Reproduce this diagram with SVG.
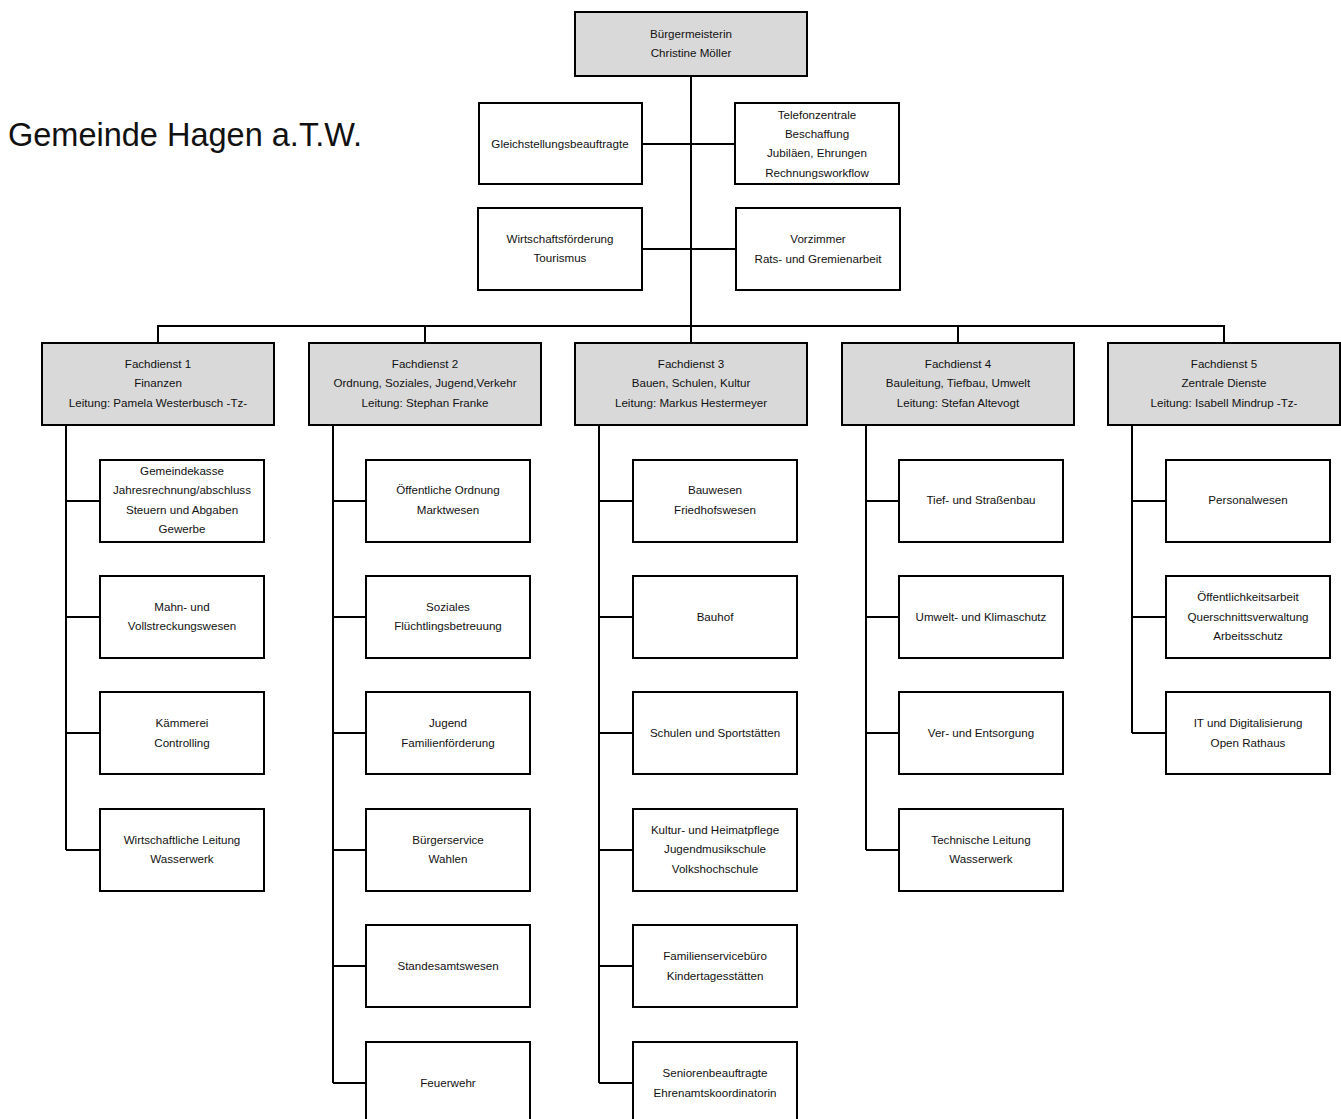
<svg xmlns="http://www.w3.org/2000/svg" width="1341" height="1119" viewBox="0 0 1341 1119">
<style>
.b{fill:#fff;stroke:#000;stroke-width:2}
.g{fill:#d9d9d9;stroke:#000;stroke-width:2}
.t{font-family:"Liberation Sans",Arial,sans-serif;font-size:11.6px;fill:#111;text-anchor:middle}
.c{stroke:#000;stroke-width:2;fill:none}
</style>
<rect width="1341" height="1119" fill="#fff"/>
<text x="8" y="146" style="font-family:'Liberation Sans',Arial,sans-serif;font-size:32.5px;fill:#111">Gemeinde Hagen a.T.W.</text>
<g id="connectors">
<path class="c" d="M691 76V326M642 144H735M642 249H736M158 343V326H1224V343M425 326V343M691 326V343M958 326V343"/>
<path class="c" d="M66 425V850M66 501H100M66 617H100M66 733H100M66 850H100"/>
<path class="c" d="M333 425V1083M333 501H366M333 617H366M333 733H366M333 850H366M333 966H366M333 1083H366"/>
<path class="c" d="M599 425V1083M599 501H633M599 617H633M599 733H633M599 850H633M599 966H633M599 1083H633"/>
<path class="c" d="M866 425V850M866 501H899M866 617H899M866 733H899M866 850H899"/>
<path class="c" d="M1132 425V733M1132 501H1166M1132 617H1166M1132 733H1166"/>
</g>
<g id="bm"><rect class="g" x="575" y="12" width="232" height="64"/><text class="t" x="691" y="38">Bürgermeisterin</text><text class="t" x="691" y="57">Christine Möller</text></g>
<g id="gleich"><rect class="b" x="479" y="103" width="163" height="81"/><text class="t" x="560" y="148">Gleichstellungsbeauftragte</text></g>
<g id="telefon"><rect class="b" x="735" y="103" width="164" height="81"/><text class="t" x="817" y="119">Telefonzentrale</text><text class="t" x="817" y="138">Beschaffung</text><text class="t" x="817" y="157">Jubiläen, Ehrungen</text><text class="t" x="817" y="177">Rechnungsworkflow</text></g>
<g id="wirt"><rect class="b" x="478" y="208" width="164" height="82"/><text class="t" x="560" y="243">Wirtschaftsförderung</text><text class="t" x="560" y="262">Tourismus</text></g>
<g id="vorz"><rect class="b" x="736" y="208" width="164" height="82"/><text class="t" x="818" y="243">Vorzimmer</text><text class="t" x="818" y="263">Rats- und Gremienarbeit</text></g>

<g id="fd1"><rect class="g" x="42" y="343" width="232" height="82"/><text class="t" x="158" y="368">Fachdienst 1</text><text class="t" x="158" y="387">Finanzen</text><text class="t" x="158" y="407">Leitung: Pamela Westerbusch -Tz-</text></g>
<g id="fd2"><rect class="g" x="309" y="343" width="232" height="82"/><text class="t" x="425" y="368">Fachdienst 2</text><text class="t" x="425" y="387">Ordnung, Soziales, Jugend,Verkehr</text><text class="t" x="425" y="407">Leitung: Stephan Franke</text></g>
<g id="fd3"><rect class="g" x="575" y="343" width="232" height="82"/><text class="t" x="691" y="368">Fachdienst 3</text><text class="t" x="691" y="387">Bauen, Schulen, Kultur</text><text class="t" x="691" y="407">Leitung: Markus Hestermeyer</text></g>
<g id="fd4"><rect class="g" x="842" y="343" width="232" height="82"/><text class="t" x="958" y="368">Fachdienst 4</text><text class="t" x="958" y="387">Bauleitung, Tiefbau, Umwelt</text><text class="t" x="958" y="407">Leitung: Stefan Altevogt</text></g>
<g id="fd5"><rect class="g" x="1108" y="343" width="232" height="82"/><text class="t" x="1224" y="368">Fachdienst 5</text><text class="t" x="1224" y="387">Zentrale Dienste</text><text class="t" x="1224" y="407">Leitung: Isabell Mindrup -Tz-</text></g>

<g id="fd1-1"><rect class="b" x="100" y="460" width="164" height="82"/><text class="t" x="182" y="475">Gemeindekasse</text><text class="t" x="182" y="494">Jahresrechnung/abschluss</text><text class="t" x="182" y="514">Steuern und Abgaben</text><text class="t" x="182" y="533">Gewerbe</text></g>
<g id="fd1-2"><rect class="b" x="100" y="576" width="164" height="82"/><text class="t" x="182" y="611">Mahn- und</text><text class="t" x="182" y="630">Vollstreckungswesen</text></g>
<g id="fd1-3"><rect class="b" x="100" y="692" width="164" height="82"/><text class="t" x="182" y="727">Kämmerei</text><text class="t" x="182" y="747">Controlling</text></g>
<g id="fd1-4"><rect class="b" x="100" y="809" width="164" height="82"/><text class="t" x="182" y="844">Wirtschaftliche Leitung</text><text class="t" x="182" y="863">Wasserwerk</text></g>

<g id="fd2-1"><rect class="b" x="366" y="460" width="164" height="82"/><text class="t" x="448" y="494">Öffentliche Ordnung</text><text class="t" x="448" y="514">Marktwesen</text></g>
<g id="fd2-2"><rect class="b" x="366" y="576" width="164" height="82"/><text class="t" x="448" y="611">Soziales</text><text class="t" x="448" y="630">Flüchtlingsbetreuung</text></g>
<g id="fd2-3"><rect class="b" x="366" y="692" width="164" height="82"/><text class="t" x="448" y="727">Jugend</text><text class="t" x="448" y="747">Familienförderung</text></g>
<g id="fd2-4"><rect class="b" x="366" y="809" width="164" height="82"/><text class="t" x="448" y="844">Bürgerservice</text><text class="t" x="448" y="863">Wahlen</text></g>
<g id="fd2-5"><rect class="b" x="366" y="925" width="164" height="82"/><text class="t" x="448" y="970">Standesamtswesen</text></g>
<g id="fd2-6"><rect class="b" x="366" y="1042" width="164" height="82"/><text class="t" x="448" y="1087">Feuerwehr</text></g>

<g id="fd3-1"><rect class="b" x="633" y="460" width="164" height="82"/><text class="t" x="715" y="494">Bauwesen</text><text class="t" x="715" y="514">Friedhofswesen</text></g>
<g id="fd3-2"><rect class="b" x="633" y="576" width="164" height="82"/><text class="t" x="715" y="621">Bauhof</text></g>
<g id="fd3-3"><rect class="b" x="633" y="692" width="164" height="82"/><text class="t" x="715" y="737">Schulen und Sportstätten</text></g>
<g id="fd3-4"><rect class="b" x="633" y="809" width="164" height="82"/><text class="t" x="715" y="834">Kultur- und Heimatpflege</text><text class="t" x="715" y="853">Jugendmusikschule</text><text class="t" x="715" y="873">Volkshochschule</text></g>
<g id="fd3-5"><rect class="b" x="633" y="925" width="164" height="82"/><text class="t" x="715" y="960">Familienservicebüro</text><text class="t" x="715" y="980">Kindertagesstätten</text></g>
<g id="fd3-6"><rect class="b" x="633" y="1042" width="164" height="82"/><text class="t" x="715" y="1077">Seniorenbeauftragte</text><text class="t" x="715" y="1097">Ehrenamtskoordinatorin</text></g>

<g id="fd4-1"><rect class="b" x="899" y="460" width="164" height="82"/><text class="t" x="981" y="504">Tief- und Straßenbau</text></g>
<g id="fd4-2"><rect class="b" x="899" y="576" width="164" height="82"/><text class="t" x="981" y="621">Umwelt- und Klimaschutz</text></g>
<g id="fd4-3"><rect class="b" x="899" y="692" width="164" height="82"/><text class="t" x="981" y="737">Ver- und Entsorgung</text></g>
<g id="fd4-4"><rect class="b" x="899" y="809" width="164" height="82"/><text class="t" x="981" y="844">Technische Leitung</text><text class="t" x="981" y="863">Wasserwerk</text></g>

<g id="fd5-1"><rect class="b" x="1166" y="460" width="164" height="82"/><text class="t" x="1248" y="504">Personalwesen</text></g>
<g id="fd5-2"><rect class="b" x="1166" y="576" width="164" height="82"/><text class="t" x="1248" y="601">Öffentlichkeitsarbeit</text><text class="t" x="1248" y="621">Querschnittsverwaltung</text><text class="t" x="1248" y="640">Arbeitsschutz</text></g>
<g id="fd5-3"><rect class="b" x="1166" y="692" width="164" height="82"/><text class="t" x="1248" y="727">IT und Digitalisierung</text><text class="t" x="1248" y="747">Open Rathaus</text></g>
</svg>
